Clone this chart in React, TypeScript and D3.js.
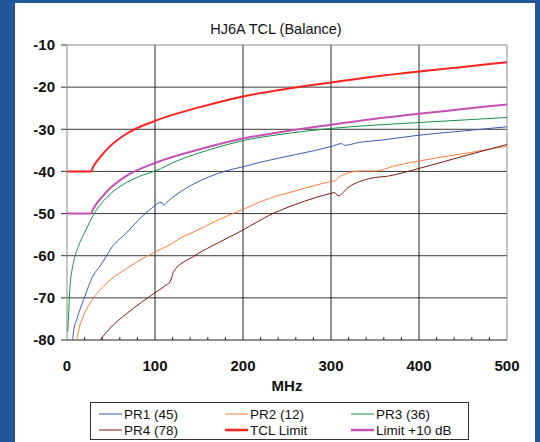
import * as d3 from 'd3'

type Pt = [number, number]

// values: [MHz, dB]
const pr1: Pt[] = [[6.5, -80], [7.2, -78.4], [12, -74.5], [18.6, -70.6], [30, -64.6], [37.5, -62.5], [45, -60], [49, -58.6], [68, -54.5], [80, -51.8], [89, -50], [100, -48.1], [105, -47.4], [108, -47.4], [110, -48], [115, -47], [125, -45.4], [143.6, -43], [162.5, -41.2], [180, -39.9], [200, -38.9], [220, -37.8], [260, -36], [300, -34.1], [312, -33.4], [316, -33.8], [330, -33.2], [360, -32.5], [400, -31.4], [450, -30.4], [500, -29.4]]

const pr2: Pt[] = [[11, -80], [14, -77], [18.6, -74.3], [30, -70.1], [49, -65.8], [68, -63], [85, -60.8], [100, -59.1], [115, -57.6], [121, -56.9], [125, -56.3], [143.6, -54.4], [174, -51.3], [200, -49], [230, -46.4], [260, -44.6], [300, -42.4], [305, -42.2], [310, -41.2], [333, -39.9], [352, -39.9], [370, -38.8], [400, -37.5], [450, -35.8], [500, -34]]

const pr3: Pt[] = [[0.8, -78], [1.5, -75.3], [3.4, -67.4], [7.2, -61.8], [12.9, -57.8], [20, -54.5], [26, -51.9], [30, -50.3], [49, -45.4], [68, -42.6], [87, -40.8], [100, -39.9], [125, -37.5], [162.5, -34.8], [200, -32.7], [250, -31], [300, -29.8], [350, -29], [400, -28.4], [450, -27.8], [500, -27.2]]

const pr4: Pt[] = [[37.5, -80], [49, -77.2], [68, -73.7], [85, -71], [100, -68.8], [113, -66.9], [117, -66.2], [119, -65.2], [121, -63.8], [143.6, -60.2], [174, -56.7], [200, -53.9], [230, -50.4], [260, -47.8], [300, -45.2], [304, -45], [308, -45.8], [319.5, -43.8], [346, -41.6], [365, -41.1], [400, -39.3], [450, -36.4], [500, -33.6]]

const tclLimit: Pt[] = [[0, -40], [27, -40], [30, -38.8], [40, -36], [49, -34], [68, -31], [100, -28], [150, -24.8], [200, -22.2], [250, -20.4], [300, -18.9], [350, -17.5], [400, -16.3], [450, -15.2], [500, -14.1]]

const limit10: Pt[] = [[0, -50], [27, -50], [30, -48.8], [40, -46], [49, -44], [68, -41], [100, -38], [150, -34.8], [200, -32.2], [250, -30.4], [300, -28.9], [350, -27.5], [400, -26.3], [450, -25.2], [500, -24.1]]

const xTicks = [0, 100, 200, 300, 400, 500]
const yTicks = [-10, -20, -30, -40, -50, -60, -70, -80]

const series = [
  { name: 'PR1 (45)', data: pr1, color: '#3d5bb0', width: 1 },
  { name: 'PR2 (12)', data: pr2, color: '#ff7a3a', width: 1 },
  { name: 'PR3 (36)', data: pr3, color: '#16914a', width: 1 },
  { name: 'PR4 (78)', data: pr4, color: '#7a1a1a', width: 1 },
  { name: 'TCL Limit', data: tclLimit, color: '#ff2020', width: 2 },
  { name: 'Limit +10 dB', data: limit10, color: '#c451b4', width: 2 },
]

export default function App() {
  const W = 540
  const H = 442
  const left = 67
  const right = 507
  const top = 45
  const bottom = 340

  const x = d3.scaleLinear().domain([0, 500]).range([left, right])
  const y = d3.scaleLinear().domain([-80, -10]).range([bottom, top])
  const line = d3.line<Pt>().x((d) => x(d[0])).y((d) => y(d[1])).curve(d3.curveMonotoneX)
  const minor = d3.range(20, 500, 20).filter((v) => v % 100 !== 0)

  const font = 'Liberation Sans, Arial, sans-serif'
  const legendCols = [99, 225, 351]

  return (
    <svg width={W} height={H} style={{ position: 'absolute', left: 0, top: 0 }} fontFamily={font}>
      <rect x={0} y={0} width={W} height={H} fill="#22579b" />
      <rect x={15} y={3} width={520} height={H} fill="#ffffff" />

      <text x={276} y={34} textAnchor="middle" fontSize={14.5} fill="#111">HJ6A TCL (Balance)</text>

      <defs>
        <clipPath id="plotClip">
          <rect x={left} y={top - 2} width={right - left + 2} height={bottom - top + 2} />
        </clipPath>
      </defs>

      {yTicks.map((t) => (
        <g key={t}>
          {t !== -80 && t !== -10 && (
            <line x1={left} x2={right} y1={y(t)} y2={y(t)} stroke="#3a3a3a" strokeWidth={1} />
          )}
          <line x1={left - 6} x2={left} y1={y(t)} y2={y(t)} stroke="#333" />
          <text x={55} y={y(t)} dy="0.35em" textAnchor="end" fontSize={15} fontWeight="bold" fill="#111">{t}</text>
        </g>
      ))}
      {xTicks.map((t) => (
        <g key={t}>
          {t !== 0 && t !== 500 && (
            <line x1={x(t)} x2={x(t)} y1={top} y2={bottom} stroke="#222" strokeWidth={1} />
          )}
          <text x={x(t)} y={366} dy="0.35em" textAnchor="middle" fontSize={15} fontWeight="bold" fill="#111">{t}</text>
        </g>
      ))}
      {minor.map((t) => (
        <line key={t} x1={x(t)} x2={x(t)} y1={bottom} y2={bottom - 3} stroke="#222" />
      ))}

      <line x1={left} x2={right} y1={top} y2={top} stroke="#8a8a8a" />
      <line x1={right} x2={right} y1={top} y2={bottom} stroke="#8a8a8a" />
      <line x1={left} x2={left} y1={top} y2={bottom} stroke="#8a8a8a" />
      <line x1={left} x2={right} y1={bottom} y2={bottom} stroke="#222" />

      <g clipPath="url(#plotClip)">
        {series.map((s) => (
          <path key={s.name} d={line(s.data) ?? ''} fill="none" stroke={s.color} strokeWidth={s.width} strokeLinejoin="round" />
        ))}
      </g>

      <text x={287} y={386} dy="0.35em" textAnchor="middle" fontSize={15} fontWeight="bold" fill="#111">MHz</text>

      <rect x={90.5} y={402.5} width={378} height={37} fill="#fff" stroke="#333" />
      {series.map((s, i) => {
        const col = i % 3
        const row = Math.floor(i / 3)
        const lx = legendCols[col]
        const ly = row === 0 ? 414 : 430
        return (
          <g key={s.name}>
            <line x1={lx} x2={lx + 23} y1={ly} y2={ly} stroke={s.color} strokeWidth={s.width === 2 ? 2.5 : 1} />
            <text x={lx + 25} y={ly} dy="0.35em" fontSize={13.5} fill="#111">{s.name}</text>
          </g>
        )
      })}
    </svg>
  )
}
